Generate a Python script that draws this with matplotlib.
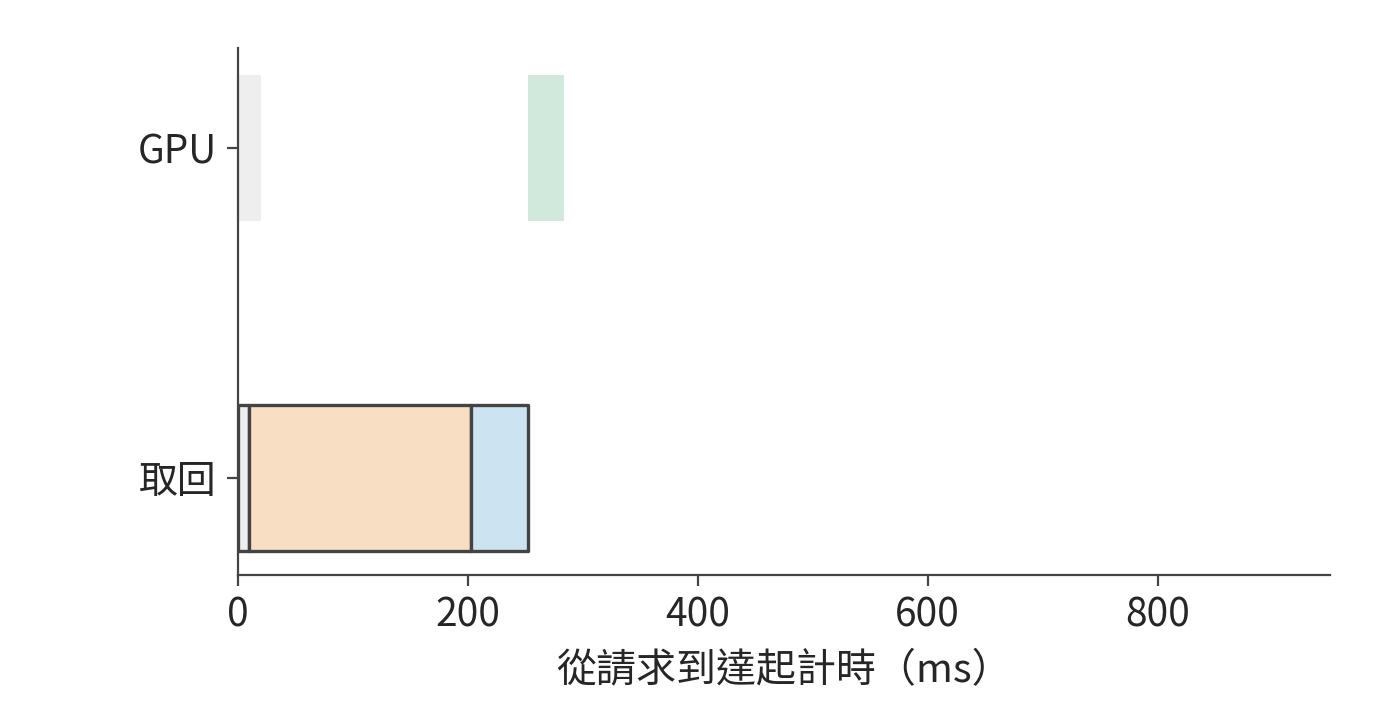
import matplotlib
matplotlib.use("Agg")
import matplotlib.pyplot as plt

plt.rcParams['font.family'] = ['Noto Sans CJK TC', 'DejaVu Sans']

# rows, bottom to top
rows = ["取回", "GPU"]

# (start, width) segments per row, in ms
fetch_segments = [(0, 10), (10, 193), (203, 49)]
fetch_colors = ["#eeeeee", "#f8dec2", "#cce3f2"]

gpu_segments = [(0, 20), (252, 32)]
gpu_colors = ["#eeeeee", "#d0e9dc"]

x_ticks = [0, 200, 400, 600, 800]
x_max = 950

edge = "#444444"
text_color = "#262626"

fig = plt.figure(figsize=(7, 3.6), dpi=200)
ax = fig.add_axes([0.17, 0.2014, 0.78, 0.732])

bar_h = 0.445
ax.broken_barh(fetch_segments, (0 - bar_h / 2, bar_h), facecolors=fetch_colors,
               edgecolor=edge, linewidth=1.2)
ax.broken_barh(gpu_segments, (1 - bar_h / 2, bar_h), facecolors=gpu_colors,
               edgecolor="none")

ax.set_xlim(0, x_max)
ax.set_ylim(-0.294, 1.303)
ax.set_xticks(x_ticks)
ax.set_yticks([0, 1])
ax.set_yticklabels(rows)
ax.set_xlabel("從請求到達起計時（ms）", fontsize=14.4, color=text_color, labelpad=5.5)

for side in ["top", "right"]:
    ax.spines[side].set_visible(False)
for side in ["left", "bottom"]:
    ax.spines[side].set_color(edge)
    ax.spines[side].set_linewidth(0.8)

ax.tick_params(axis="both", labelsize=14, colors=edge, labelcolor=text_color,
               length=4, width=0.8)

fig.savefig("out.png", dpi=200)
